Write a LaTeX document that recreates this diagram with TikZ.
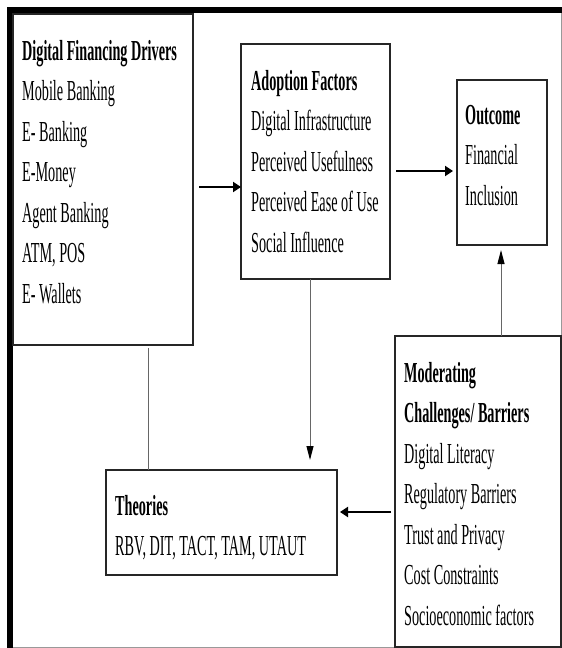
\documentclass[tikz,border=0pt]{standalone}
\usepackage{fontspec}
\newfontfamily\condserif[FakeStretch=0.49]{Liberation Serif}
\usetikzlibrary{arrows.meta,calc}
\begin{document}
\begin{tikzpicture}[x=1pt,y=-1pt,
  box/.style={draw=black!85, line width=1.3pt, anchor=north west, inner sep=0pt, outer sep=0pt},
  txt/.style={anchor=base west, inner sep=0pt, font=\condserif\fontsize{29}{33}\selectfont},
  ttl/.style={anchor=base west, inner sep=0pt, font=\condserif\bfseries\fontsize{29}{33}\selectfont},
  flow/.style={line width=2pt, -{Triangle[length=8pt,width=10pt]}},
  feed/.style={draw=black!60, line width=1pt, -{Triangle[length=14pt,width=7pt,color=black]}},
  link/.style={draw=black!60, line width=1pt}]
\useasboundingbox (0,0) rectangle (562,648);
\fill[white] (0,0) rectangle (562,648);

% outer frame with heavy left and top edges
\draw[black!40, line width=1pt] (10,10) rectangle (561,647);
\fill[black] (7,7) rectangle (13,648);
\fill[black] (7,7) rectangle (562,13);

% boxes
\node[box, minimum width=180pt, minimum height=331pt] (drivers) at (13,14) {};
\node[box, minimum width=149pt, minimum height=235pt] (adopt) at (241,44) {};
\node[box, minimum width=90pt, minimum height=165pt] (outcome) at (457,80) {};
\node[box, minimum width=231pt, minimum height=105pt] (theories) at (106,470) {};
\node[box, minimum width=166pt, minimum height=311pt] (moder) at (395,336) {};

% box contents
\node[ttl] (drvT) at (22,60) {Digital Financing Drivers};
\foreach \t [count=\i from 0] in {Mobile Banking, E- Banking, E-Money, Agent Banking, {ATM, POS}, E- Wallets}
  \node[txt] (drv\i) at (22,100.5+40.5*\i) {\t};

\node[ttl] (adpT) at (251,90) {Adoption Factors};
\foreach \t [count=\i from 0] in {Digital Infrastructure, Perceived Usefulness, Perceived Ease of Use, Social Influence}
  \node[txt] (adp\i) at (251,130.5+40.5*\i) {\t};

\node[ttl] (outT) at (465,124) {Outcome};
\node[txt] (out0) at (465,164.5) {Financial};
\node[txt] (out1) at (465,205) {Inclusion};

\node[ttl] (thT) at (115,515) {Theories};
\node[txt] (th0) at (115,555.5) {RBV, DIT, TACT, TAM, UTAUT};

\node[ttl] (modT0) at (404,382) {Moderating};
\node[ttl] (modT1) at (404,422.5) {Challenges/ Barriers};
\foreach \t [count=\i from 0] in {Digital Literacy, Regulatory Barriers, Trust and Privacy, Cost Constraints, Socioeconomic factors}
  \node[txt] (mod\i) at (404,463+40.5*\i) {\t};

% guide levels for connectors
\coordinate (lvlA) at (0,187);
\coordinate (lvlB) at (0,171);
\coordinate (lvlC) at (0,512);
\coordinate (colA) at (310,0);
\coordinate (colB) at (501,0);
\coordinate (colC) at (148,0);

% connectors
\draw[flow] ($(drivers.east |- lvlA)+(6,0)$) -- (adopt.west |- lvlA);
\draw[flow] ($(adopt.east |- lvlB)+(6,0)$) -- ($(outcome.west |- lvlB)+(-4,0)$);
\draw[feed] (adopt.south -| colA) -- ($(theories.north -| colA)+(0,-10)$);
\draw[feed] (moder.north -| colB) -- ($(outcome.south -| colB)+(0,5)$);
\draw[flow] ($(moder.west |- lvlC)+(-4,0)$) -- ($(theories.east |- lvlC)+(3,0)$);
\draw[link] ($(drivers.south -| colC)+(0,3)$) -- (theories.north -| colC);
\end{tikzpicture}
\end{document}
